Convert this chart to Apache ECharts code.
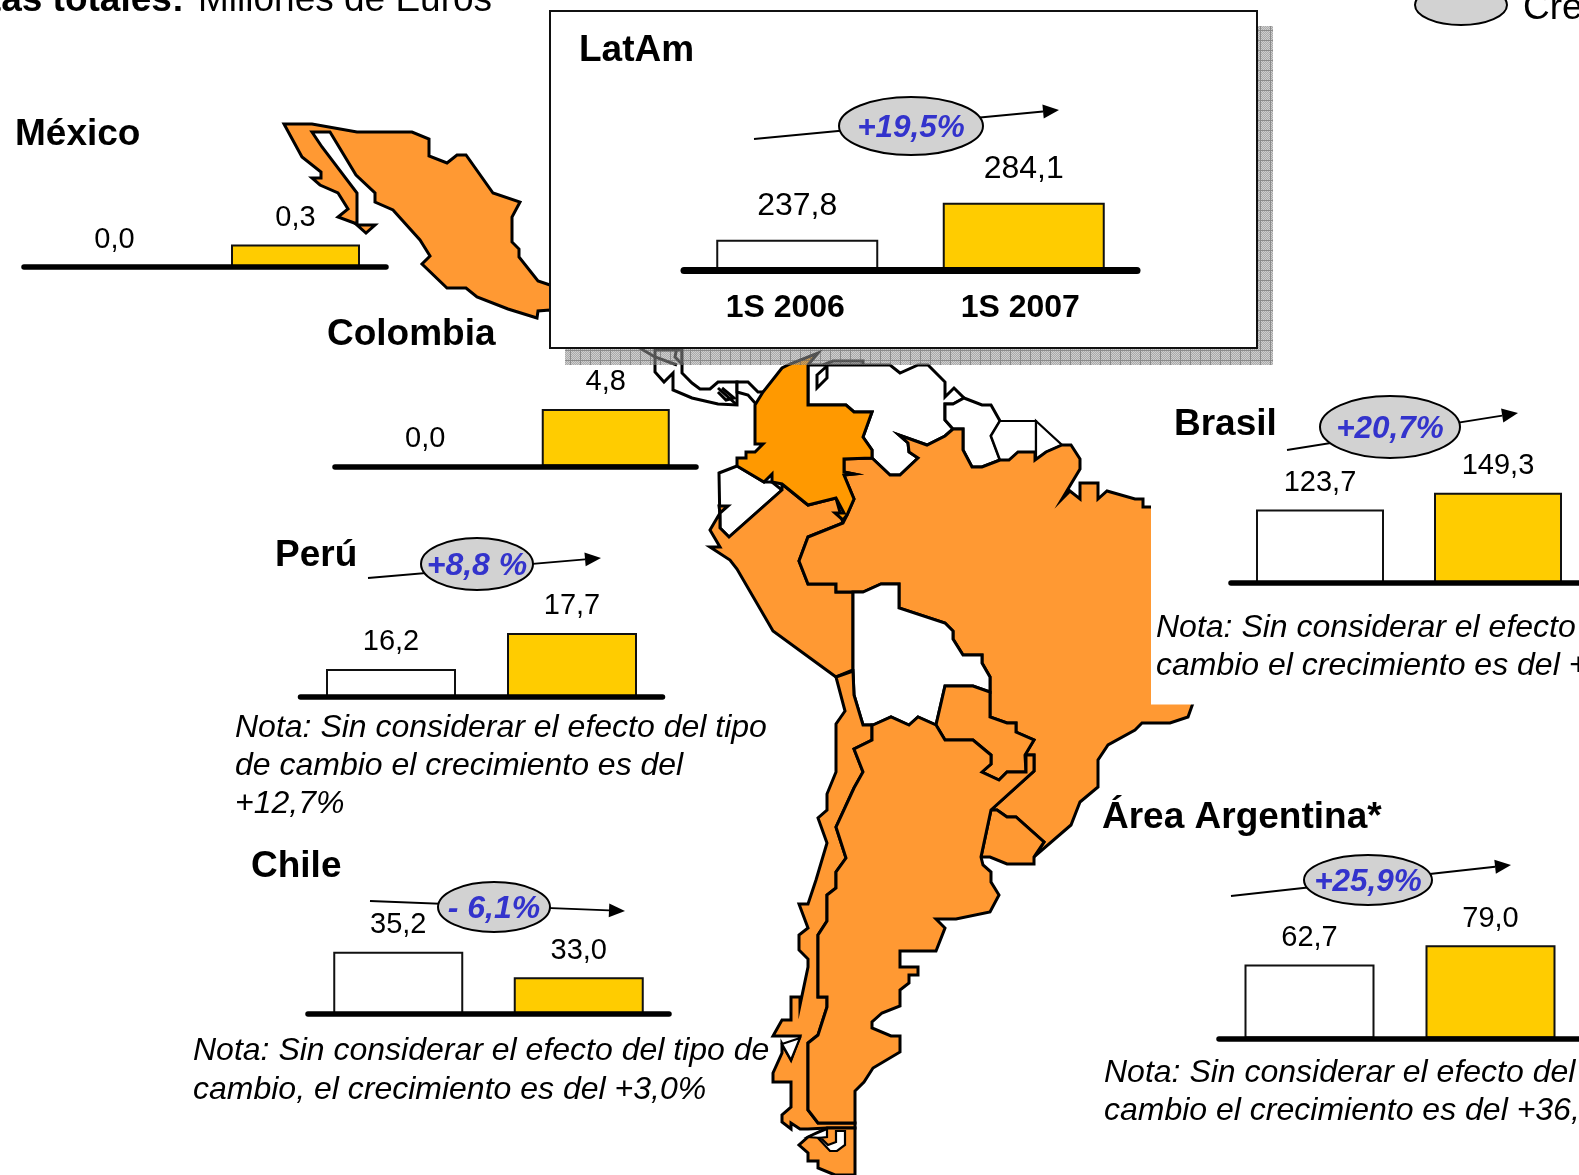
<!DOCTYPE html>
<html lang="es">
<head>
<meta charset="utf-8">
<title>Ventas totales LatAm</title>
<script src="https://cdn.jsdelivr.net/npm/echarts@6/dist/echarts.min.js"></script>
<style>
    html, body { margin: 0; padding: 0; background: #fff; overflow: hidden; }
    #chart { width: 1579px; height: 1175px; }
</style>
</head>
<body>
<div id="chart"></div>
<script>
// valores de las barras (millones de euros)
const periods = ['1S 2006', '1S 2007'];
const latamValues = [237.8, 284.1];
const mexicoValues = [0.0, 0.3];
const colombiaValues = [0.0, 4.8];
const peruValues = [16.2, 17.7];
const chileValues = [35.2, 33.0];
const brasilValues = [123.7, 149.3];
const argentinaValues = [62.7, 79.0];

// contornos del mapa, en pixeles de la pagina
const mexicoShape = [[284,124],[312,124],[357,132],[412,132],[429,139],[429,156],[447,163],[457,155],[466,155],[493,193],[520,202],[512,217],[512,242],[519,249],[519,257],[538,281],[550,285],[600,300],[600,320],[550,310],[538,311],[537,318],[508,309],[477,297],[466,288],[447,288],[422,264],[430,256],[420,240],[393,210],[375,202],[375,193],[356,175],[330,132],[312,132],[322,147],[357,193],[357,224],[338,217],[348,209],[338,193],[320,185],[312,178],[321,178],[321,172],[302,157]];
const bajaTipShape = [[357,225],[375,225],[366,233]];
const brasilShape = [[872,458],[890,475],[900,475],[918,458],[909,452],[908,443],[899,435],[927,445],[945,436],[953,429],[963,429],[963,450],[972,467],[982,467],[1000,460],[1009,460],[1018,452],[1035,452],[1035,460],[1046,452],[1062,445],[1071,445],[1080,459],[1080,469],[1062,499],[1070,491],[1080,499],[1080,483],[1098,483],[1098,499],[1107,491],[1135,499],[1143,499],[1143,507],[1193,507],[1193,703],[1188,717],[1170,723],[1142,723],[1135,730],[1108,745],[1098,760],[1098,787],[1080,802],[1071,825],[1034,857],[1044,842],[1016,817],[1007,817],[997,810],[991,810],[1034,771],[1034,755],[1025,755],[1034,740],[1016,732],[1016,723],[1007,723],[990,717],[990,677],[982,663],[982,655],[963,655],[953,639],[953,631],[945,623],[899,608],[899,584],[881,584],[863,592],[836,592],[836,584],[808,584],[799,561],[808,537],[843,523],[847,515],[854,499],[844,475],[854,474],[844,472],[844,459]];
const colombiaShape = [[818,353],[808,365],[808,405],[846,405],[854,412],[872,412],[863,437],[872,450],[872,458],[844,459],[844,472],[854,474],[844,475],[854,499],[847,515],[843,520],[835,513],[844,513],[836,498],[808,505],[782,484],[772,482],[772,474],[764,482],[737,466],[737,458],[746,458],[746,452],[755,452],[763,444],[755,444],[755,405],[763,392],[782,368],[790,364]];
const ecuadorShape = [[719,473],[737,466],[764,482],[772,482],[782,490],[729,537],[720,528]];
const peruShape = [[782,490],[729,537],[720,528],[720,513],[728,506],[719,506],[720,513],[710,530],[720,547],[710,547],[730,560],[737,569],[773,631],[836,677],[853,670],[853,592],[836,592],[836,584],[808,584],[799,561],[808,537],[843,523],[836,498],[808,505],[782,484]];
const boliviaShape = [[853,592],[863,592],[881,584],[899,584],[899,608],[945,623],[953,631],[953,639],[963,655],[982,655],[982,663],[990,677],[990,692],[973,686],[945,686],[936,725],[918,717],[909,725],[891,717],[873,725],[863,725],[854,695],[853,670]];
const paraguayShape = [[945,686],[973,686],[990,692],[990,717],[1007,723],[1016,723],[1016,732],[1034,740],[1025,755],[1026,772],[1007,772],[999,780],[982,772],[991,764],[991,755],[973,740],[945,740],[936,725]];
const uruguayShape = [[991,810],[997,810],[1007,817],[1016,817],[1044,842],[1034,857],[1034,864],[1007,864],[990,857],[981,857]];
const argentinaShape = [[873,725],[891,717],[909,725],[918,717],[936,725],[945,740],[973,740],[991,755],[991,764],[982,772],[999,780],[1007,772],[1026,772],[1026,755],[1034,755],[1034,771],[991,810],[981,857],[983,865],[991,872],[991,882],[999,895],[990,912],[956,919],[936,919],[945,928],[936,951],[900,951],[900,967],[918,967],[918,975],[909,975],[909,983],[900,990],[900,1006],[882,1013],[872,1022],[872,1028],[891,1036],[900,1036],[900,1052],[873,1068],[864,1082],[855,1091],[855,1123],[818,1123],[808,1110],[808,1043],[818,1035],[827,1007],[827,997],[818,997],[818,935],[827,921],[827,895],[836,888],[836,872],[846,858],[836,827],[854,788],[863,772],[854,749],[872,740],[872,725]];
const chileShape = [[836,677],[845,711],[836,724],[836,772],[827,794],[827,810],[818,818],[827,843],[816,880],[808,904],[799,904],[808,928],[799,935],[799,950],[808,959],[808,967],[800,1005],[800,997],[791,997],[791,1020],[782,1020],[773,1036],[800,1036],[791,1060],[782,1044],[782,1053],[773,1073],[773,1082],[791,1082],[791,1107],[782,1115],[782,1122],[791,1129],[791,1123],[800,1129],[808,1129],[827,1128],[855,1128],[855,1123],[818,1123],[808,1110],[808,1043],[818,1035],[827,1007],[827,997],[818,997],[818,935],[827,921],[827,895],[836,888],[836,872],[846,858],[836,827],[854,788],[863,772],[854,749],[872,740],[872,725],[863,725],[854,695],[853,671]];
const tierraShape = [[808,1137],[827,1128],[855,1128],[855,1175],[835,1175],[818,1168],[818,1161],[808,1161],[808,1153],[799,1145]];
const hookShape = [[808,1137],[827,1129],[827,1137],[818,1138],[830,1151],[837,1151],[845,1145],[845,1131],[836,1131],[836,1142],[828,1145],[821,1138]];
const notchShape = [[782,1044],[800,1038],[791,1060]];
const venezuelaShape = [[808,365],[808,405],[846,405],[854,412],[872,412],[863,437],[872,450],[872,458],[890,475],[900,475],[918,458],[909,452],[908,443],[899,435],[927,445],[945,436],[953,429],[945,420],[945,404],[953,404],[964,398],[954,388],[945,397],[945,382],[928,365],[918,365],[900,373],[890,365]];
const guyanaShape = [[964,398],[953,404],[945,404],[945,420],[953,429],[963,429],[963,450],[972,467],[982,467],[1000,460],[991,436],[1000,421],[991,405],[982,405]];
const surinamShape = [[1000,421],[1036,421],[1036,452],[1018,452],[1009,460],[1000,460],[991,436]];
const guayanaShape = [[1036,421],[1062,445],[1046,452],[1036,460],[1036,452]];
const arubaShape = [[817,375],[827,366],[827,378],[817,388]];
const centralShape = [[655,350],[655,372],[664,382],[673,373],[673,390],[692,398],[718,404],[737,405],[737,382],[718,382],[710,389],[700,389],[692,383],[682,373],[682,350]];
const panamaShape = [[737,382],[748,382],[758,392],[763,392],[763,405],[755,403],[748,395],[737,392]];
const lakeLines = [[718,388],[737,405]];
const lakeLines2 = [[722,388],[734,398],[726,400],[718,392]];
const gulfLine = [[638,347],[655,357],[677,365]];
const gulfLine2 = [[677,347],[675,357],[683,365]];
const venezuelaLine = [[823,365],[833,361],[863,361],[863,365]];

// tapas blancas y recuadro de LatAm
const brasilCover = [[1151,400],[1579,400],[1579,704.5],[1151,704.5]];
const shadowRect = [[565,26],[1273,26],[1273,365],[565,365]];
const boxRect = [[550,11],[1257,11],[1257,348],[550,348]];

const ORANGE = '#FF9933';
const COLOMBIA = '#FF9900';
const YELLOW = '#FFCC00';
const BLUE = '#3333CC';
const OVAL = '#D2D2D2';
const FONT = '"Liberation Sans", Arial, sans-serif';

const mapLayer = [
    { points: mexicoShape, fill: ORANGE },
    { points: bajaTipShape, fill: ORANGE },
    { points: centralShape, fill: '#fff' },
    { points: panamaShape, fill: '#fff' },
    { points: venezuelaShape, fill: '#fff' },
    { points: guyanaShape, fill: '#fff' },
    { points: surinamShape, fill: '#fff', width: 2.2 },
    { points: guayanaShape, fill: '#fff', width: 2.2 },
    { points: arubaShape, fill: '#fff' },
    { points: ecuadorShape, fill: '#fff' },
    { points: peruShape, fill: ORANGE },
    { points: brasilShape, fill: ORANGE },
    { points: colombiaShape, fill: COLOMBIA },
    { points: boliviaShape, fill: '#fff' },
    { points: paraguayShape, fill: ORANGE },
    { points: uruguayShape, fill: ORANGE },
    { points: chileShape, fill: ORANGE },
    { points: argentinaShape, fill: ORANGE },
    { points: tierraShape, fill: ORANGE },
    { points: hookShape, fill: '#fff', width: 2.2 },
    { points: notchShape, fill: '#fff', width: 2.2 },
    { points: lakeLines, open: true },
    { points: lakeLines2, open: true },
    { points: gulfLine, open: true },
    { points: gulfLine2, open: true },
    { points: venezuelaLine, open: true },
    { points: brasilCover, fill: '#fff', stroke: 'none' }
];

// trama gris de la sombra del recuadro
function shadowTile() {
    const c = document.createElement('canvas');
    c.width = 10;
    c.height = 10;
    const g = c.getContext('2d');
    for (let y = 0; y < 10; y++) {
        for (let x = 0; x < 10; x++) {
            g.fillStyle = (x + y) % 2 ? 'rgba(120,120,120,0.62)' : 'rgba(165,165,165,0.55)';
            if (x === 0 || y === 0) g.fillStyle = 'rgba(110,110,110,0.8)';
            g.fillRect(x, y, 1, 1);
        }
    }
    return c;
}

const shadowLayer = [{ points: shadowRect, fill: { image: shadowTile(), repeat: 'repeat' }, stroke: 'none' }];
const boxLayer = [{ points: boxRect, fill: '#fff', stroke: '#111', width: 2 }];

function regionSeries(layer, z) {
    return {
        type: 'custom',
        xAxisIndex: 0,
        yAxisIndex: 0,
        z: z,
        silent: true,
        data: layer.map((r, i) => [i]),
        renderItem: (params, api) => {
            const r = layer[params.dataIndex];
            return {
                type: r.open ? 'polyline' : 'polygon',
                shape: { points: r.points.map(p => api.coord(p)) },
                style: {
                    fill: r.open ? 'none' : r.fill,
                    stroke: r.stroke || '#000',
                    lineWidth: r.width || 3,
                    lineJoin: 'miter'
                }
            };
        }
    };
}

// posicion de cada grafico de barras
const panels = [
    { values: mexicoValues, left: 24, width: 362, base: 267, height: 75, min: 0, max: 1, bar: 129 },
    { values: colombiaValues, left: 335, width: 361, base: 466.5, height: 72, min: 0, max: 6, bar: 128 },
    { values: peruValues, left: 300.5, width: 362, base: 696.5, height: 72, min: 15.05, max: 18.05, bar: 130 },
    { values: chileValues, left: 308, width: 361, base: 1013.5, height: 70, min: 29.9, max: 35.9, bar: 130 },
    { values: brasilValues, left: 1231, width: 356, base: 582.5, height: 98, min: 12, max: 162, bar: 128 },
    { values: argentinaValues, left: 1219, width: 362, base: 1038.5, height: 118, min: 0, max: 100, bar: 130 },
    { values: latamValues, left: 684, width: 453, base: 270, height: 80, min: 200, max: 300, bar: 162, latam: true }
];

const grids = [{ left: 0, top: 0, width: 1579, height: 1175, outerBoundsMode: 'none' }];
const xAxes = [{ type: 'value', gridIndex: 0, min: 0, max: 1579, show: false }];
const yAxes = [{ type: 'value', gridIndex: 0, min: 0, max: 1175, inverse: true, show: false }];
const series = [regionSeries(mapLayer, 1), regionSeries(shadowLayer, 2), regionSeries(boxLayer, 3)];

panels.forEach((p, i) => {
    const idx = i + 1;
    // outerBoundsMode none: Brasil y Argentina se salen de la pagina por la derecha
    grids.push({ left: p.left, top: p.base - p.height, width: p.width, height: p.height, outerBoundsMode: 'none' });
    xAxes.push({
        type: 'category',
        gridIndex: idx,
        data: p.latam
            ? [{ value: periods[0], textStyle: { padding: [0, 24, 0, 0] } }, { value: periods[1], textStyle: { padding: [0, 7, 0, 0] } }]
            : periods,
        z: 6,
        axisLine: { onZero: false, lineStyle: { color: '#000', width: p.latam ? 7 : 5.5, cap: 'round' } },
        axisTick: { show: false },
        axisLabel: {
            show: !!p.latam,
            interval: 0,
            margin: 22,
            color: '#000',
            fontFamily: FONT,
            fontWeight: 'bold',
            fontSize: 32
        }
    });
    yAxes.push({ type: 'value', gridIndex: idx, min: p.min, max: p.max, show: false });
    series.push({
        type: 'bar',
        xAxisIndex: idx,
        yAxisIndex: idx,
        z: 5,
        barWidth: p.bar,
        silent: true,
        data: p.values.map((v, k) => ({
            value: v,
            itemStyle: { color: k === 0 ? '#fff' : YELLOW, borderColor: '#111', borderWidth: 2 }
        })),
        label: {
            show: true,
            position: 'top',
            distance: p.latam ? 18 : 12,
            color: '#000',
            fontFamily: FONT,
            fontSize: p.latam ? 32 : 29,
            formatter: o => o.value.toFixed(1).replace('.', ',')
        }
    });
});

// textos y flechas sueltos
function text(x, y, str, size, extra) {
    return {
        type: 'text',
        x: x,
        y: y,
        z: 10,
        silent: true,
        style: Object.assign({
            text: str,
            fontFamily: FONT,
            fontSize: size,
            fill: '#000',
            align: 'left',
            verticalAlign: 'middle'
        }, extra || {})
    };
}
const title = (x, y, str) => text(x, y + 3, str, 37, { fontWeight: 'bold' });
const note = (x, y, str) => text(x - 1, y + 2, str, 32, { fontStyle: 'italic' });

function growth(from, to, oval, label, size) {
    const a = Math.atan2(to[1] - from[1], to[0] - from[0]);
    const s = 16, w = 7;
    const bx = to[0] - s * Math.cos(a), by = to[1] - s * Math.sin(a);
    return [
        { type: 'line', z: 10, silent: true, shape: { x1: from[0], y1: from[1], x2: bx, y2: by }, style: { stroke: '#000', lineWidth: 1.8 } },
        { type: 'polygon', z: 10, silent: true, shape: { points: [to, [bx - w * Math.sin(a), by + w * Math.cos(a)], [bx + w * Math.sin(a), by - w * Math.cos(a)]] }, style: { fill: '#000' } },
        { type: 'ellipse', z: 11, silent: true, shape: { cx: oval[0], cy: oval[1], rx: oval[2], ry: oval[3] }, style: { fill: OVAL, stroke: '#000', lineWidth: 2 } },
        { type: 'text', z: 12, silent: true, x: oval[0], y: oval[1] + 2.5, style: { text: label, fontFamily: FONT, fontSize: size, fontWeight: 'bold', fontStyle: 'italic', fill: BLUE, align: 'center', verticalAlign: 'middle' } }
    ];
}

const elements = [
    text(-77, 1, 'Ventas totales:', 37, { fontWeight: 'bold' }),
    text(198, 1, 'Millones de Euros', 37),
    { type: 'ellipse', z: 10, silent: true, shape: { cx: 1461, cy: 5, rx: 46, ry: 20 }, style: { fill: OVAL, stroke: '#000', lineWidth: 2 } },
    text(1523, 9, 'Cre', 37),
    title(15, 132, 'México'),
    title(327, 332, 'Colombia'),
    title(579, 48, 'LatAm'),
    title(275, 553, 'Perú'),
    title(251, 864, 'Chile'),
    title(1174, 422, 'Brasil'),
    title(1102, 815, 'Área Argentina*'),
    note(236, 726, 'Nota: Sin considerar el efecto del tipo'),
    note(236, 764, 'de cambio el crecimiento es del'),
    note(236, 802, '+12,7%'),
    note(194, 1049, 'Nota: Sin considerar el efecto del tipo de'),
    note(194, 1088, 'cambio, el crecimiento es del +3,0%'),
    note(1157, 626, 'Nota: Sin considerar el efecto'),
    note(1157, 664, 'cambio el crecimiento es del +'),
    note(1105, 1071, 'Nota: Sin considerar el efecto del'),
    note(1105, 1109, 'cambio el crecimiento es del +36,')
].concat(
    growth([754, 139], [1059, 110], [911, 126, 72, 29], '+19,5%', 31.5),
    growth([1287, 450], [1518, 413], [1390, 427, 70, 31], '+20,7%', 31.5),
    growth([368, 578], [601, 558], [477, 564, 56, 26], '+8,8 %', 32),
    growth([370, 901], [625, 911], [494, 907, 56, 25], '- 6,1%', 32),
    growth([1231, 896], [1511, 865], [1368, 880, 64, 25], '+25,9%', 31.5)
);

const chart = echarts.init(document.getElementById('chart'));
chart.setOption({
    animation: false,
    backgroundColor: '#fff',
    grid: grids,
    xAxis: xAxes,
    yAxis: yAxes,
    series: series,
    graphic: { elements: elements }
});
</script>
</body>
</html>
